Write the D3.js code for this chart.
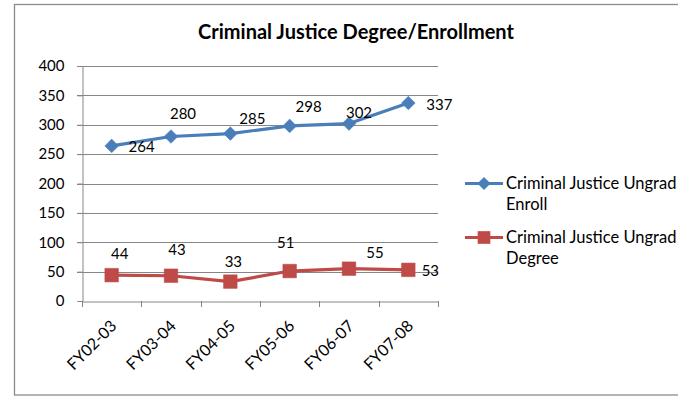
<!DOCTYPE html>
<html><head><meta charset="utf-8">
<script src="https://cdn.jsdelivr.net/npm/d3@7"></script>
<style>
html,body{margin:0;padding:0;background:#fff;}
svg{display:block;font-family:Lato,"Open Sans",sans-serif;}
</style></head>
<body>
<svg id="chart" width="678" height="396"></svg>
<script>
const categories = ["FY02-03","FY03-04","FY04-05","FY05-06","FY06-07","FY07-08"];
const enrollValues = [264, 280, 285, 298, 302, 337];
const degreeValues = [44, 43, 33, 51, 55, 53];
const yTicks = [0, 50, 100, 150, 200, 250, 300, 350, 400];
const seriesNames = [["Criminal Justice Ungrad", "Enroll"], ["Criminal Justice Ungrad", "Degree"]];
// label offsets (Excel automatic label placement)
const enrollLabelOffsets = [[30,1],[12,-23],[22,-15],[19,-19],[10,-11],[31,2]];
const degreeLabelOffsets = [[8,-21],[6,-26],[3,-20],[-4,-28],[26,-16],[22,1]];

const svg = d3.select("#chart");
const blue = "#4A7EBB", red = "#BE4B48", grid = "#868686";

// outer frame
svg.append("rect").attr("x",14.5).attr("y",4.5).attr("width",700).attr("height",390.5)
  .attr("fill","none").attr("stroke","#8c8c8c").attr("stroke-width",1.3);

svg.append("text").attr("x",356).attr("y",39).attr("text-anchor","middle")
  .attr("font-weight","bold").attr("font-size",20).attr("fill","#000")
  .text("Criminal Justice Degree/Enrollment");

const x0 = 82, x1 = 438, yTop = 66, yBot = 301;
const x = d3.scaleBand().domain(categories).range([x0, x1]);
const y = d3.scaleLinear().domain([0, 400]).range([yBot, yTop]);

// gridlines
svg.append("g").selectAll("line").data(yTicks.filter(d=>d>0)).join("line")
  .attr("x1",77).attr("x2",x1).attr("y1",d=>Math.round(y(d))+0.5).attr("y2",d=>Math.round(y(d))+0.5)
  .attr("stroke",grid).attr("stroke-width",1);

// y axis
const yAxis = svg.append("g").attr("transform",`translate(${x0+0.5},0)`)
  .call(d3.axisLeft(y).tickValues(yTicks).tickSize(5).tickPadding(13).tickFormat(d3.format("d")));
yAxis.select(".domain").attr("stroke",grid);
yAxis.selectAll(".tick line").attr("stroke",grid);
yAxis.selectAll(".tick text").attr("font-size",15).attr("fill","#000").attr("font-family","Lato,sans-serif");

// x axis
const xAxis = svg.append("g").attr("transform",`translate(0,${yBot+0.5})`)
  .call(d3.axisBottom(x).tickSize(0).tickFormat(""));
xAxis.select(".domain").attr("stroke",grid);
const xt = categories.map((c,i)=>x0 + i*x.bandwidth()).concat([x1]);
svg.append("g").selectAll("line").data(xt).join("line")
  .attr("x1",d=>Math.round(d)+0.5).attr("x2",d=>Math.round(d)+0.5)
  .attr("y1",yBot).attr("y2",yBot+6).attr("stroke",grid);
svg.append("g").selectAll("text").data(categories).join("text")
  .attr("transform",d=>`translate(${x(d)+x.bandwidth()/2+6},${yBot+26}) rotate(-45)`)
  .attr("text-anchor","end").attr("font-size",16).attr("fill","#000").text(d=>d);

const cx = d => x(d) + x.bandwidth()/2;
const line = d3.line().x((d,i)=>cx(categories[i])).y(d=>y(d));

function drawSeries(vals, color, shape, offsets){
  svg.append("path").datum(vals).attr("d",line).attr("fill","none")
    .attr("stroke",color).attr("stroke-width",3.2).attr("stroke-linejoin","round");
  const sym = d3.symbol().type(shape).size(shape===d3.symbolSquare?185:120);
  svg.append("g").selectAll("path").data(vals).join("path")
    .attr("d",sym).attr("transform",(d,i)=>`translate(${cx(categories[i])},${y(d)})`)
    .attr("fill",color).attr("stroke",color).attr("stroke-width",0.5);
  svg.append("g").selectAll("text").data(vals).join("text")
    .attr("x",(d,i)=>cx(categories[i])+offsets[i][0]).attr("y",(d,i)=>y(d)+offsets[i][1])
    .attr("dy","0.35em").attr("text-anchor","middle").attr("font-size",15).attr("fill","#000")
    .text(d=>d);
}
drawSeries(enrollValues, blue, d3.symbolDiamond2, enrollLabelOffsets);
drawSeries(degreeValues, red, d3.symbolSquare, degreeLabelOffsets);

// legend
const legend = svg.append("g");
[[blue, d3.symbolDiamond2, 110, 183.5],[red, d3.symbolSquare, 160, 237.5]].forEach((s,i)=>{
  const g = legend.append("g").attr("transform",`translate(0,${s[3]})`);
  g.append("line").attr("x1",465).attr("x2",503).attr("stroke",s[0]).attr("stroke-width",3.2);
  g.append("path").attr("d",d3.symbol().type(s[1]).size(s[2])).attr("transform","translate(484,0)").attr("fill",s[0]);
  const t = g.append("text").attr("x",506).attr("font-size",16.5).attr("fill","#000");
  t.append("tspan").attr("x",506).attr("dy","0.35em").text(seriesNames[i][0]);
  t.append("tspan").attr("x",506).attr("dy",21).text(seriesNames[i][1]);
});
</script>
</body></html>
